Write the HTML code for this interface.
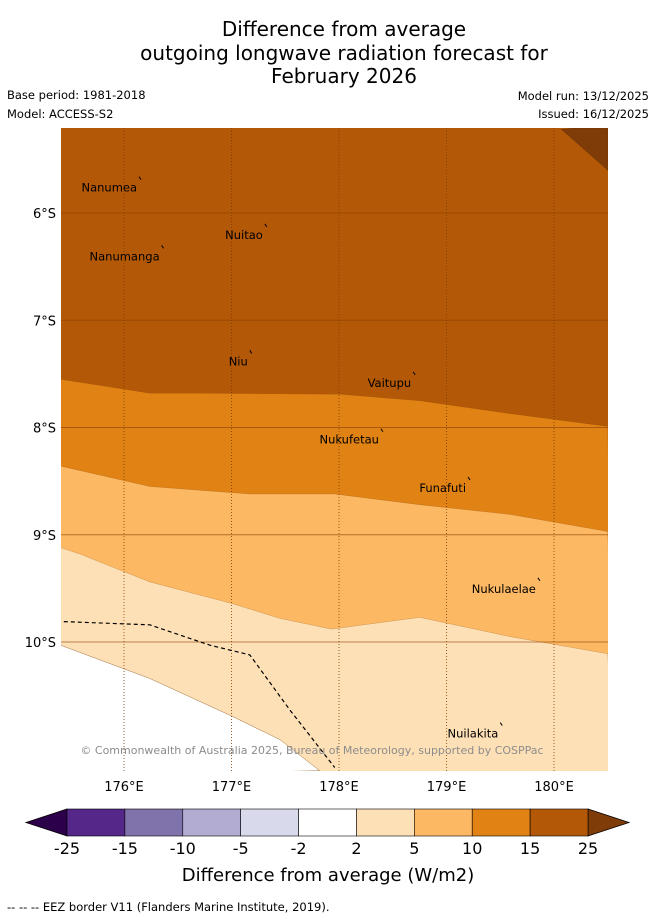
<!DOCTYPE html>
<html><head><meta charset="utf-8">
<style>
body{margin:0;background:#fff;font-family:"Liberation Sans","DejaVu Sans",sans-serif;}
svg{display:block}
</style></head>
<body>
<svg id="chart" width="655" height="919" xmlns="http://www.w3.org/2000/svg" font-family="DejaVu Sans, Liberation Sans, sans-serif">
<g font-size="20" text-anchor="middle" fill="#000">
<text x="344" y="36">Difference from average</text>
<text x="344" y="60">outgoing longwave radiation forecast for</text>
<text x="344" y="83">February 2026</text>
</g>
<g font-size="11.5" fill="#000">
<text x="7" y="99">Base period: 1981-2018</text>
<text x="7" y="118">Model: ACCESS-S2</text>
<text x="649" y="100" text-anchor="end">Model run: 13/12/2025</text>
<text x="649" y="118" text-anchor="end">Issued: 16/12/2025</text>
</g>
<defs><clipPath id="mapclip"><rect x="61" y="128" width="547" height="643"/></clipPath></defs>
<g id="map" clip-path="url(#mapclip)"></g>
<g id="axes" font-size="13" fill="#000"></g>
<g id="cbar"></g>
<text x="328" y="881" font-size="18" text-anchor="middle">Difference from average (W/m2)</text>
<text x="7" y="911" font-size="11.5">--  --  -- EEZ border V11 (Flanders Marine Institute, 2019).</text>
</svg>
<script>
const lonMin=175.414, lonMax=180.502, latMin=5.207, latMax=11.203;
const x0=61,x1=608,y0=128,y1=771;
const levelColors=["#b35806","#e08214","#fdb863","#fee0b6","#ffffff"];
const bandALon=[175.41,176.24,176.71,178.01,178.75,179.59,180.5];
const bandALat=[7.55,7.68,7.68,7.69,7.75,7.87,7.99];
const bandBLon=[175.41,176.24,177.17,177.96,178.75,179.59,180.5];
const bandBLat=[8.36,8.55,8.62,8.62,8.72,8.81,8.97];
const bandCLon=[175.41,175.59,176.24,177.0,177.45,177.93,178.75,179.59,180.5];
const bandCLat=[9.12,9.18,9.44,9.64,9.78,9.88,9.77,9.95,10.11];
const bandDLon=[175.41,176.24,177.0,177.45,177.82];
const bandDLat=[10.03,10.34,10.69,10.91,11.2];
const peakLon=[180.07,180.2,180.5,180.5];
const peakLat=[5.22,5.207,5.207,5.6];
const eezLon=[175.44,176.24,176.8,177.17,177.54,177.96];
const eezLat=[9.81,9.84,10.03,10.12,10.63,11.17];
const lonTicks=[176,177,178,179,180];
const latTicks=[6,7,8,9,10];
const places=["Nanumea","Nuitao","Nanumanga","Niu","Vaitupu","Nukufetau","Funafuti","Nukulaelae","Nuilakita"];
const placeLon=[176.14,177.31,176.35,177.17,178.69,178.39,179.2,179.85,179.5];
const placeLat=[5.68,6.12,6.32,7.3,7.5,8.03,8.48,9.42,10.77];
const cbLabels=["-25","-15","-10","-5","-2","2","5","10","15","25"];
const cbColors=["#542788","#8073ac","#b2abd2","#d8daeb","#ffffff","#fee0b6","#fdb863","#e08214","#b35806"];
const cbLow="#2d004b", cbHigh="#7f3b08";

const X=lon=>x0+(lon-lonMin)/(lonMax-lonMin)*(x1-x0);
const Y=lat=>y0+(lat-latMin)/(latMax-latMin)*(y1-y0);
const NS="http://www.w3.org/2000/svg";
function mk(tag,attrs,parent){const e=document.createElementNS(NS,tag);for(const k in attrs)e.setAttribute(k,attrs[k]);parent.appendChild(e);return e;}
const pts=(lo,la)=>lo.map((v,i)=>X(v)+","+Y(la[i])).join(" ");
const map=document.getElementById('map');
const bottom=Y(latMax)+5, right=X(lonMax)+5, left=X(lonMin)-5;
let bg=mk('rect',{x:x0,y:y0,width:x1-x0,height:y1-y0,fill:levelColors[0]},map);


const bands=[[bandALon,bandALat,'band-10-15'],[bandBLon,bandBLat,'band-5-10'],[bandCLon,bandCLat,'band-2-5']];
bands.forEach((b,i)=>{
  const p=mk('polygon',{points:pts(b[0],b[1])+" "+right+","+bottom+" "+left+","+bottom,fill:levelColors[i+1],stroke:'#8a4a0a','stroke-width':0.4,'stroke-opacity':0.5},map);
  
  
});
const w=mk('polygon',{points:pts(bandDLon,bandDLat)+" "+left+","+bottom,fill:levelColors[4],stroke:'#a07040','stroke-width':0.5},map);


const pk=mk('polygon',{points:pts(peakLon,peakLat),fill:cbHigh,stroke:'#5a2a04','stroke-width':0.6,'stroke-dasharray':'1,1'},map);


lonTicks.forEach(t=>{const l=mk('line',{x1:X(t),x2:X(t),y1:y0,y2:y1,stroke:'#7a3a00','stroke-width':1,'stroke-dasharray':'1,2','stroke-opacity':0.8},map);

});
latTicks.forEach(t=>{const l=mk('line',{x1:x0,x2:x1,y1:Y(t),y2:Y(t),stroke:'#8a4000','stroke-width':1,'stroke-opacity':0.6},map);

});
const ez=mk('polyline',{points:pts(eezLon,eezLat),fill:'none',stroke:'#000','stroke-width':1.2,'stroke-dasharray':'4,3'},map);


places.forEach((n,i)=>{
  const px=X(placeLon[i]),py=Y(placeLat[i]);
  const m=mk('line',{x1:px,y1:py-2,x2:px+2,y2:py+1,stroke:'#000','stroke-width':1},map);
  
  
  const t=mk('text',{x:px-2,y:py+13,'font-size':11.5,'text-anchor':'end',fill:'#000'},map);
  t.textContent=n;
  
  
});
const cp=mk('text',{x:312,y:754,'font-size':11,'text-anchor':'middle',fill:'#8c8c8c'},map);
cp.textContent="© Commonwealth of Australia 2025, Bureau of Meteorology, supported by COSPPac";


const ax=document.getElementById('axes');
lonTicks.forEach(t=>{const e=mk('text',{x:X(t),y:791,'text-anchor':'middle'},ax);e.textContent=t+"°E";

});
latTicks.forEach(t=>{const e=mk('text',{x:56,y:Y(t)+5,'text-anchor':'end'},ax);e.textContent=t+"°S";

});
const cb=document.getElementById('cbar');
const cx0=67,cx1=588,cy0=809,cy1=836,cw=(cx1-cx0)/cbColors.length;
const lt=mk('polygon',{points:`${cx0},${cy0} 26,${(cy0+cy1)/2} ${cx0},${cy1}`,fill:cbLow,stroke:'#000','stroke-width':0.8},cb);


const rt=mk('polygon',{points:`${cx1},${cy0} 629,${(cy0+cy1)/2} ${cx1},${cy1}`,fill:cbHigh,stroke:'#000','stroke-width':0.8},cb);


cbColors.forEach((c,i)=>{const r=mk('rect',{x:cx0+i*cw,y:cy0,width:cw,height:cy1-cy0,fill:c,stroke:'#000','stroke-width':0.6},cb);

});
cbLabels.forEach((l,i)=>{const t=mk('text',{x:cx0+i*cw,y:854,'font-size':16,'text-anchor':'middle',fill:'#000'},cb);t.textContent=l;

});
</script>
</body></html>
